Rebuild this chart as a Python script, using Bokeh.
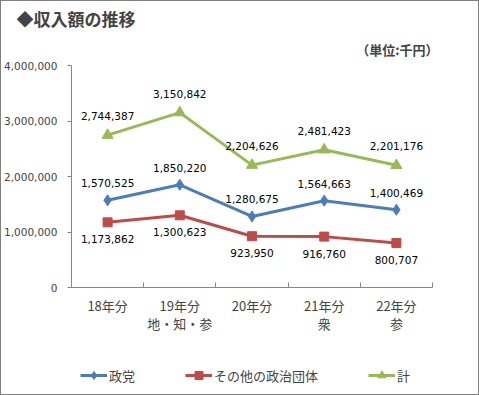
from bokeh.plotting import figure
from bokeh.layouts import column
from bokeh.models import (Title, Legend, LegendItem, FixedTicker,
                          NumeralTickFormatter, Range1d)
from bokeh.core.properties import value
from bokeh.embed import file_html
from bokeh.resources import INLINE

# ---- data ----
categories = ["18年分", "19年分\n地・知・参", "20年分", "21年分\n衆", "22年分\n参"]
party = [1570525, 1850220, 1280675, 1564663, 1400469]
other = [1173862, 1300623, 923950, 916760, 800707]
total = [2744387, 3150842, 2204626, 2481423, 2201176]
series_names = ["政党", "その他の政治団体", "計"]
y_ticks = [0, 1000000, 2000000, 3000000, 4000000]
title_text = "◆収入額の推移"
unit_text = "（単位:千円）"

FONT = "Noto Sans CJK JP"
NUMFONT = "DejaVu Sans"
BLUE = "#4A7EBB"
RED = "#BE4B48"
GREEN = "#98B954"
AXIS = "#868686"

xs = [i + 0.5 for i in range(len(categories))]
styles = [(party, BLUE, "diamond", 11, -17),
          (other, RED, "square", 9, 17),
          (total, GREEN, "triangle", 11, -19)]

p = figure(width=477, height=344, output_backend="svg", toolbar_location=None,
           x_range=Range1d(0, len(categories)), y_range=Range1d(0, 4000000),
           min_border_left=70, min_border_right=46, min_border_top=64,
           min_border_bottom=58)
p.outline_line_color = None
p.xgrid.visible = False
p.ygrid.visible = False

# titles
p.title.text = title_text
p.title.align = "left"
p.title.offset = -55
p.title.standoff = 0
p.title.text_font = FONT
p.title.text_font_size = "17px"
p.title.text_font_style = "bold"
p.add_layout(Title(text=unit_text, align="right", standoff=14, offset=-6, text_font=FONT,
                   text_font_size="13px", text_font_style="bold"), "above")

# y axis
p.yaxis.ticker = FixedTicker(ticks=y_ticks)
p.yaxis.formatter = NumeralTickFormatter(format="0,0")
p.yaxis.axis_line_color = AXIS
p.yaxis.major_tick_line_color = AXIS
p.yaxis.major_tick_out = 4
p.yaxis.major_tick_in = 0
p.yaxis.minor_tick_line_color = None
p.yaxis.major_label_text_font = NUMFONT
p.yaxis.major_label_text_font_size = "10.5px"
p.yaxis.major_label_standoff = 10

# x axis
p.xaxis.ticker = FixedTicker(ticks=xs, minor_ticks=list(range(len(categories) + 1)))
p.xaxis.major_label_overrides = {x: c for x, c in zip(xs, categories)}
p.xaxis.axis_line_color = AXIS
p.xaxis.major_tick_line_color = None
p.xaxis.major_tick_in = 0
p.xaxis.major_tick_out = 0
p.xaxis.minor_tick_line_color = AXIS
p.xaxis.minor_tick_in = 5
p.xaxis.minor_tick_out = 0
p.xaxis.major_label_text_font = FONT
p.xaxis.major_label_text_font_size = "13px"
p.xaxis.major_label_text_line_height = 0.95
p.xaxis.major_label_standoff = 8

for vals, color, marker, msize, yoff in styles:
    p.line(xs, vals, line_color=color, line_width=3)
    p.scatter(xs, vals, marker=marker, size=msize, fill_color=color, line_color=color)
    p.text(xs, vals, text=["{:,}".format(v) for v in vals], text_align="center",
           text_baseline="middle", y_offset=yoff, text_font=value(NUMFONT),
           text_font_size="10.5px", text_color="#000000")

# legend strip (same series, drawn out of view; only the legend shows)
lg = figure(width=477, height=49, output_backend="svg", toolbar_location=None,
            x_range=Range1d(0, len(categories)), y_range=Range1d(-2, -1),
            x_axis_location=None, y_axis_location=None, min_border=0)
lg.outline_line_color = None
lg.xgrid.visible = False
lg.ygrid.visible = False
items = []
for name, (vals, color, marker, msize, yoff) in zip(series_names, styles):
    ln = lg.line(xs, vals, line_color=color, line_width=3)
    mk = lg.scatter(xs, vals, marker=marker, size=msize, fill_color=color, line_color=color)
    items.append(LegendItem(label=name, renderers=[ln, mk]))
legend = Legend(items=items, orientation="horizontal", location=(9, 9), spacing=50,
                glyph_width=27, glyph_height=20, label_standoff=2, padding=0, margin=0,
                border_line_alpha=0, background_fill_alpha=0,
                label_text_font=FONT, label_text_font_size="13px")
lg.add_layout(legend)

layout = column(p, lg, spacing=0)
layout.margin = (1, 1, 1, 1)
layout.styles = {"outline": "1px solid #808080", "outline-offset": "0px"}

open("out.html", "w").write(file_html(layout, INLINE))
